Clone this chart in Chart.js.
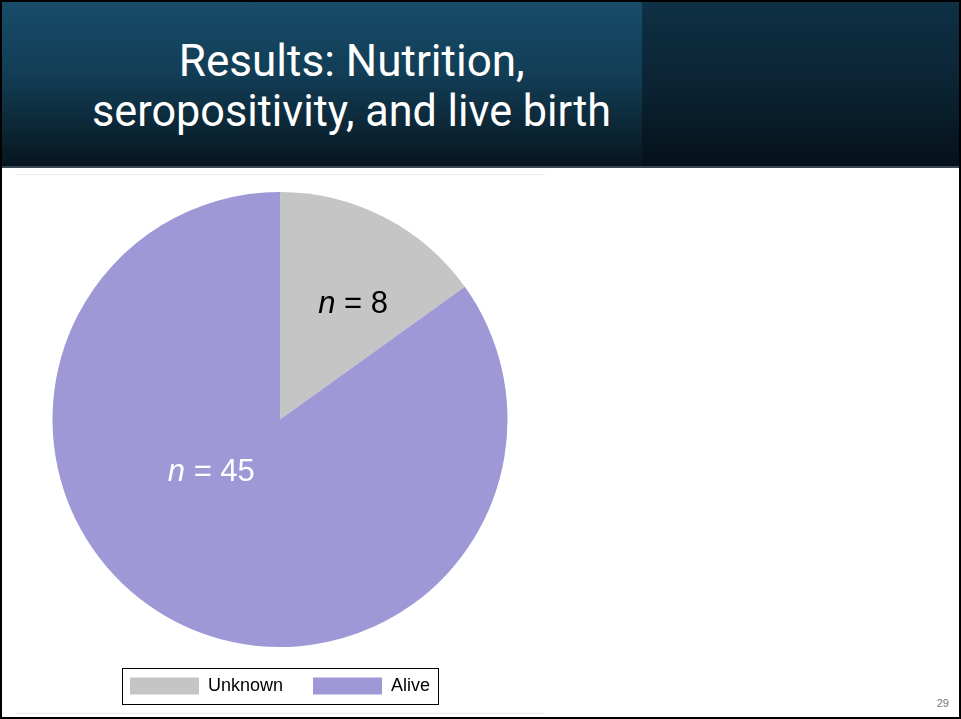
<!DOCTYPE html>
<html>
<head>
<meta charset="utf-8">
<script src="https://cdn.jsdelivr.net/npm/chart.js@4.4.1/dist/chart.umd.min.js"></script>
<style>
  html, body { margin:0; padding:0; background:#fff; }
  #page { position:relative; width:961px; height:719px; box-sizing:border-box; border:2px solid #000; overflow:hidden; background:#fff; }
  #header { position:absolute; left:0; top:0; width:957px; height:164px;
    background: linear-gradient(180deg, #174c69 0%, #123d55 45%, #07161f 100%); border-bottom:2px solid #3a4650; }
  #headerRight { position:absolute; left:640px; top:0; width:317px; height:164px;
    background: linear-gradient(180deg, #0f3045 0%, #0b2434 50%, #05111a 100%); }
  .tline { position:absolute; left:0; width:700px; text-align:center; color:#fff; font-family:Roboto, "Noto Sans", sans-serif; font-size:44px; white-space:nowrap; }
  .tline span { display:inline-block; transform-origin:center; }
  #chartBox { position:absolute; left:13px; top:172px; width:530px; height:538px; border-top:1px solid #e4ecf3; border-bottom:1px solid #e4ecf3; }
  #pg { position:absolute; right:10px; bottom:8px; font-family:"Liberation Sans", Arial, sans-serif; font-size:11px; color:#777; }
</style>
</head>
<body>
<div id="page">
  <div id="header"><div id="headerRight"></div>
    <div class="tline" style="top:33px"><span id="t1">Results: Nutrition,</span></div>
    <div class="tline" style="top:83px"><span id="t2">seropositivity, and live birth</span></div>
  </div>
  <div id="chartBox"><canvas id="c" width="530" height="538"></canvas></div>
  <div id="pg">29</div>
</div>
<script>
const categories = ["Unknown", "Alive"];
const counts = [8, 45];
const sliceColors = ["#c5c5c5", "#9f98d6"];
const labelColors = ["#000000", "#ffffff"];

// condense title lines to the reference widths
[["t1", 346], ["t2", 519]].forEach(([id, w]) => {
  const el = document.getElementById(id);
  const s = w / el.getBoundingClientRect().width;
  el.style.transform = "scaleX(" + s + ")";
});

const sliceLabelPlugin = {
  id: "sliceLabels",
  afterDatasetsDraw(chart, args, opts) {
    const ctx = chart.ctx;
    const meta = chart.getDatasetMeta(0);
    meta.data.forEach((arc, i) => {
      const place = opts.placement[i];
      const a = (place.angle - 90) * Math.PI / 180;
      const r = arc.outerRadius * place.radius;
      const x = arc.x + Math.cos(a) * r;
      const y = arc.y + Math.sin(a) * r;
      const italic = "italic 31px 'Liberation Sans', Arial, sans-serif";
      const normal = "31px 'Liberation Sans', Arial, sans-serif";
      const rest = " = " + chart.data.datasets[0].data[i];
      ctx.save();
      ctx.textBaseline = "middle";
      ctx.fillStyle = labelColors[i];
      ctx.font = italic; const w1 = ctx.measureText("n").width;
      ctx.font = normal; const w2 = ctx.measureText(rest).width;
      let x0 = x - (w1 + w2) / 2;
      ctx.font = italic; ctx.textAlign = "left"; ctx.fillText("n", x0, y);
      ctx.font = normal; ctx.fillText(rest, x0 + w1, y);
      ctx.restore();
    });
  }
};

const legendBorderPlugin = {
  id: "legendBorder",
  afterDraw(chart) {
    const boxes = chart.legend.legendHitBoxes;
    if (!boxes || !boxes.length) return;
    let l = Infinity, t = Infinity, r = -Infinity, b = -Infinity;
    boxes.forEach(h => { l = Math.min(l, h.left); t = Math.min(t, h.top); r = Math.max(r, h.left + h.width); b = Math.max(b, h.top + h.height); });
    const ctx = chart.ctx;
    ctx.save();
    ctx.strokeStyle = "#000"; ctx.lineWidth = 1;
    ctx.strokeRect(Math.round(l - 8) + 0.5, Math.round(t - 9) + 0.5, Math.round(r - l + 16), Math.round(b - t + 18));
    ctx.restore();
  }
};

new Chart(document.getElementById("c"), {
  type: "pie",
  data: {
    labels: categories,
    datasets: [{ data: counts, backgroundColor: sliceColors, borderWidth: 0 }]
  },
  options: {
    responsive: false,
    animation: false,
    layout: { padding: { top: 17, bottom: 8, left: 0, right: 0 } },
    plugins: {
      tooltip: { enabled: false },
      legend: {
        position: "bottom",
        labels: {
          boxWidth: 69, boxHeight: 17, padding: 30, color: "#000",
          font: { family: "'Liberation Sans', Arial, sans-serif", size: 18 }
        }
      },
      sliceLabels: { placement: [ { angle: 32.4, radius: 0.6 }, { angle: 232.6, radius: 0.38 } ] }
    }
  },
  plugins: [sliceLabelPlugin, legendBorderPlugin]
});
</script>
</body>
</html>
